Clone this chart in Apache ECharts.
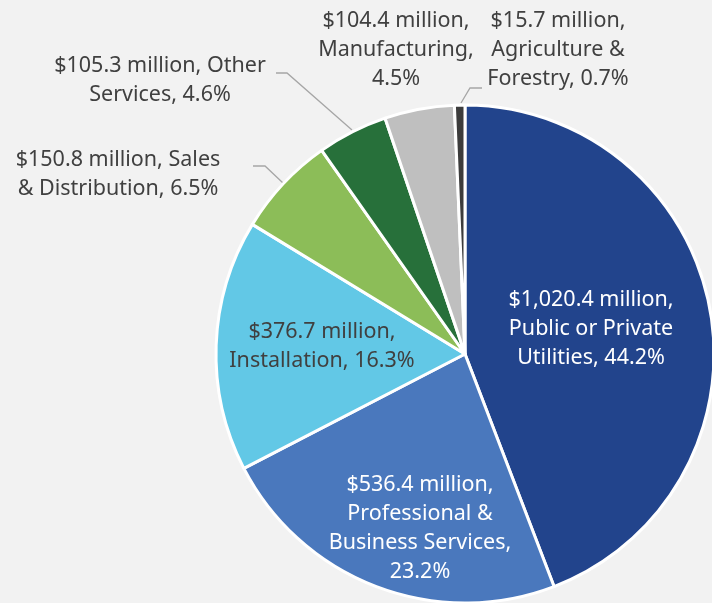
<!DOCTYPE html>
<html><head><meta charset="utf-8">
<script src="https://cdn.jsdelivr.net/npm/echarts@6/dist/echarts.min.js"></script>
<style>html,body{margin:0;padding:0;background:#f2f2f2;}#c{width:712px;height:603px;}</style>
</head><body><div id="c"></div>
<script>
const categories = ['Public or Private Utilities','Professional & Business Services','Installation','Sales & Distribution','Other Services','Manufacturing','Agriculture & Forestry'];
const values = [1020.4, 536.4, 376.7, 150.8, 105.3, 104.4, 15.7];
const labelTexts = [
  '$1,020.4 million,\nPublic or Private\nUtilities, 44.2%',
  '$536.4 million,\nProfessional &\nBusiness Services,\n23.2%',
  '$376.7 million,\nInstallation, 16.3%',
  '$150.8 million, Sales\n& Distribution, 6.5%',
  '$105.3 million, Other\nServices, 4.6%',
  '$104.4 million,\nManufacturing,\n4.5%',
  '$15.7 million,\nAgriculture &\nForestry, 0.7%'
];
const colors = ['#22448c','#4a78bd','#62c8e6','#8cbd58','#27703a','#bfbfbf','#3c3c3c'];
const labelColors = ['#ffffff','#ffffff','#404040','#404040','#404040','#404040','#404040'];
const labelPos = [[591,329],[420,528],[322,346],[118,174],[160,80],[396,50],[558,50]];
const linePts = [null,null,null,[[283,183],[265,166],[253,166]],[[352,130],[287,73],[276,73]],null,[[461,103],[470,88],[482,88]]];
const inside = [true,true,true,false,false,false,false];
const showLine = [false,false,false,true,true,false,true];

const chart = echarts.init(document.getElementById('c'));
const data = categories.map((n,i)=>({
  name:n, value:values[i],
  itemStyle:{color:colors[i]},
  label:{position: inside[i]?'inside':'outside', color:labelColors[i], formatter:labelTexts[i]},
  labelLine:{show:showLine[i], lineStyle:{color:'#a6a6a6', width:1.3}}
}));
chart.setOption({
  backgroundColor:'#f2f2f2',
  animation:false,
  series:[{
    type:'pie',
    center:[465,354],
    radius:[0,249],
    startAngle:90,
    clockwise:true,
    avoidLabelOverlap:false,
    itemStyle:{borderColor:'#ffffff', borderWidth:3},
    label:{fontFamily:'"Noto Sans", sans-serif', fontSize:21.5, lineHeight:29, align:'center'},
    labelLine:{length:15,length2:12},
    labelLayout:function(p){
      const i = p.dataIndex;
      const pos = labelPos[i];
      const r = {x:pos[0], y:pos[1], align:'center', verticalAlign:'middle', moveOverlap:null};
      if (linePts[i]) r.labelLinePoints = linePts[i];
      return r;
    },
    data:data
  }]
});
</script></body></html>
